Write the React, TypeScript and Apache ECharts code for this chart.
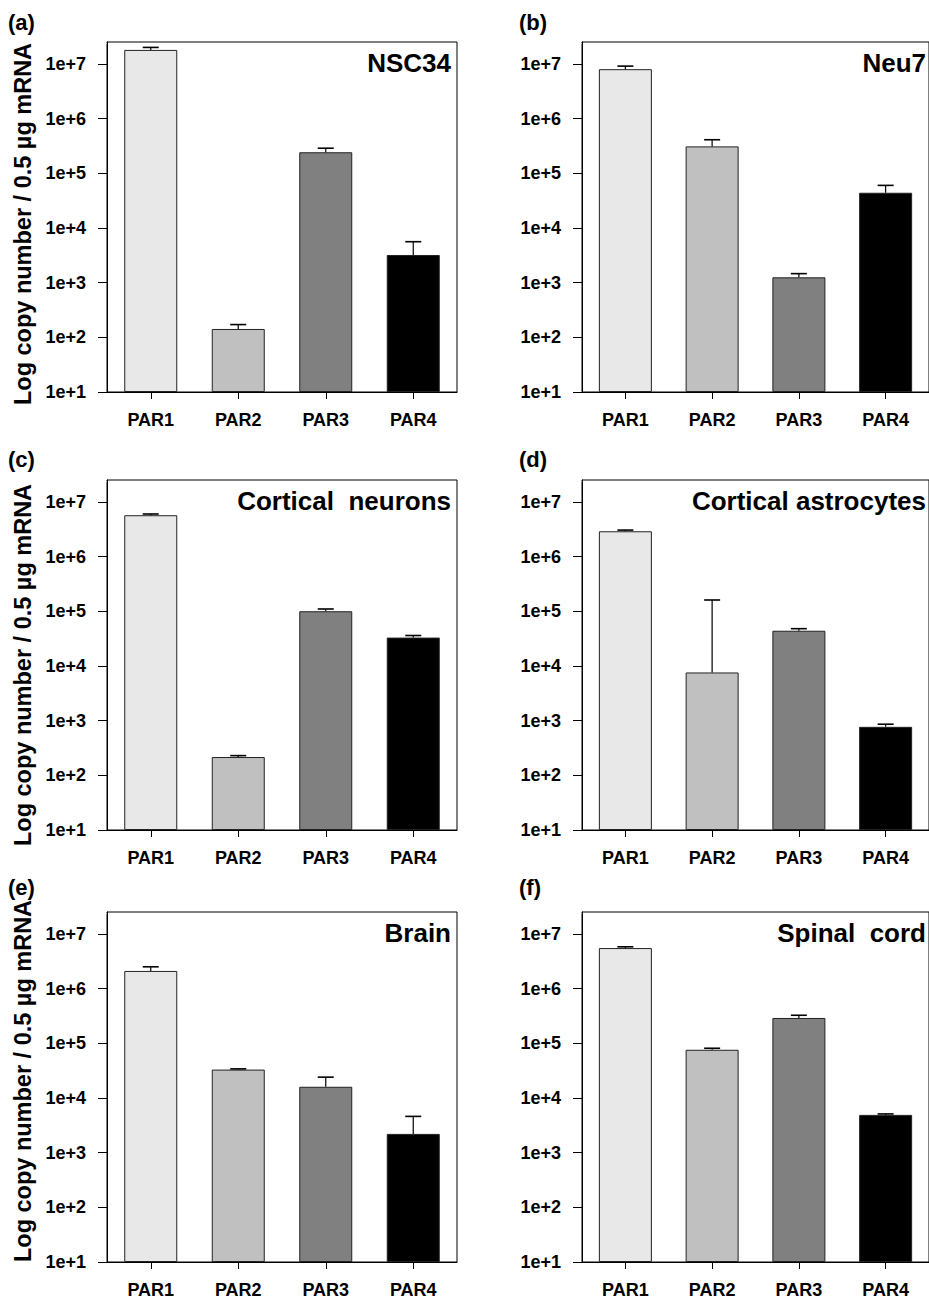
import React, { useEffect, useRef } from "react";
import * as echarts from "echarts";

// ---------- data ----------
const categories = ["PAR1", "PAR2", "PAR3", "PAR4"];
const yTickExponents = [1, 2, 3, 4, 5, 6, 7];

const nsc34Means = [1.8e7, 142, 2.42e5, 3.2e3];
const nsc34Err = [2.0e6, 29, 4.5e4, 2.4e3];

const neu7Means = [8.0e6, 3.1e5, 1.25e3, 4.4e4];
const neu7Err = [1.1e6, 1.0e5, 210, 1.6e4];

const corticalNeuronsMeans = [5.7e6, 216, 1.0e5, 3.3e4];
const corticalNeuronsErr = [3.0e5, 13, 1.0e4, 3.0e3];

const corticalAstrocytesMeans = [2.9e6, 7.6e3, 4.4e4, 770];
const corticalAstrocytesErr = [1.5e5, 1.53e5, 4.0e3, 90];

const brainMeans = [2.1e6, 3.3e4, 1.6e4, 2.2e3];
const brainErr = [4.0e5, 1.0e3, 8.0e3, 2.4e3];

const spinalCordMeans = [5.5e6, 7.6e4, 2.9e5, 4.9e3];
const spinalCordErr = [3.0e5, 5.0e3, 3.5e4, 200];

const panelLetters = ["(a)", "(b)", "(c)", "(d)", "(e)", "(f)"];
const panelTitles = [
  "NSC34",
  "Neu7",
  "Cortical  neurons",
  "Cortical astrocytes",
  "Brain",
  "Spinal  cord",
];
const panelMeans = [
  nsc34Means,
  neu7Means,
  corticalNeuronsMeans,
  corticalAstrocytesMeans,
  brainMeans,
  spinalCordMeans,
];
const panelErrs = [
  nsc34Err,
  neu7Err,
  corticalNeuronsErr,
  corticalAstrocytesErr,
  brainErr,
  spinalCordErr,
];
const yAxisTitle = "Log copy number / 0.5 \u00b5g mRNA";

// ---------- styles / layout ----------
const barColors = ["#e8e8e8", "#c0c0c0", "#808080", "#000000"];
const FONT = 'Arial, "Liberation Sans", Helvetica, sans-serif';
const COL_LEFT = [107, 582];
const ROW_TOP = [42, 480, 912];
const GRID_W = 350;
const GRID_H = 350;
const LOG_MAX_EXP = 7.4;
const LETTER_Y = [22, 459, 887];
const YTITLE_Y = [224, 665, 1081];

function buildOption() {
  const grids: any[] = [];
  const xAxes: any[] = [];
  const yAxes: any[] = [];
  const series: any[] = [];
  const graphics: any[] = [];
  const decade = GRID_H / (LOG_MAX_EXP - 1);

  for (let i = 0; i < 6; i++) {
    const col = i % 2;
    const row = Math.floor(i / 2);
    const left = COL_LEFT[col];
    const top = ROW_TOP[row];
    grids.push({
      left,
      top,
      width: GRID_W,
      height: GRID_H,
      show: true,
      borderColor: "#000",
      borderWidth: 1,
      backgroundColor: "transparent",
      containLabel: false,
    });
    xAxes.push({
      type: "category",
      gridIndex: i,
      data: categories,
      axisLine: { show: true, lineStyle: { color: "#000", width: 1 } },
      axisTick: {
        show: true,
        alignWithLabel: true,
        length: 7,
        lineStyle: { color: "#000", width: 1 },
      },
      axisLabel: {
        margin: 19,
        color: "#000",
        fontSize: 18,
        fontWeight: "bold",
        fontFamily: FONT,
      },
      splitLine: { show: false },
    });
    yAxes.push({
      type: "log",
      logBase: 10,
      gridIndex: i,
      min: 10,
      max: Math.pow(10, LOG_MAX_EXP),
      startValue: 10,
      axisLine: { show: true, lineStyle: { color: "#000", width: 1 } },
      axisTick: { show: true, length: 9, lineStyle: { color: "#000", width: 1 } },
      axisLabel: {
        margin: 21,
        color: "#000",
        fontSize: 18,
        fontWeight: "bold",
        fontFamily: FONT,
        formatter: (v: number) => {
          const e = Math.log10(v);
          const r = Math.round(e);
          return Math.abs(e - r) < 1e-6 && yTickExponents.includes(r)
            ? `1e+${r}`
            : "";
        },
      },
      splitLine: { show: false },
    });

    const means = panelMeans[i];
    const errs = panelErrs[i];
    series.push({
      type: "bar",
      xAxisIndex: i,
      yAxisIndex: i,
      barWidth: 53,
      clip: true,
      data: means.map((v, k) => ({
        value: v,
        itemStyle: {
          color: barColors[k],
          borderColor: "#222",
          borderWidth: 1,
        },
      })),
      z: 2,
    });
    series.push({
      type: "custom",
      xAxisIndex: i,
      yAxisIndex: i,
      z: 3,
      encode: { x: 0, y: 2 },
      data: means.map((v, k) => [k, v, v + errs[k]]),
      renderItem: (params: any, api: any) => {
        const x = api.value(0);
        const m = api.value(1);
        const t = api.value(2);
        const p1 = api.coord([x, m]);
        const p2 = api.coord([x, t]);
        const half = 8;
        return {
          type: "group",
          children: [
            {
              type: "line",
              shape: { x1: p1[0], y1: p1[1], x2: p2[0], y2: p2[1] },
              style: { stroke: "#000", lineWidth: 1.2 },
            },
            {
              type: "line",
              shape: { x1: p2[0] - half, y1: p2[1], x2: p2[0] + half, y2: p2[1] },
              style: { stroke: "#000", lineWidth: 1.6 },
            },
          ],
        };
      },
    });

    // mask the extra tick that the log axis draws at its (non-decade) max
    graphics.push({
      type: "rect",
      shape: { x: left - 12, y: top - 2, width: 11.5, height: 4 },
      style: { fill: "#fff" },
      z: 100,
    });

    // panel title (inside, top right), vertically at the 1e+7 level
    const y7 = top + GRID_H - 6 * decade;
    graphics.push({
      type: "text",
      x: left + GRID_W - 6,
      y: y7 - 1,
      style: {
        text: panelTitles[i],
        fill: "#000",
        fontSize: 26,
        fontWeight: "bold",
        fontFamily: FONT,
        align: "right",
        verticalAlign: "middle",
      },
      z: 10,
    });
    // panel letter
    graphics.push({
      type: "text",
      x: col === 0 ? 8 : 519,
      y: LETTER_Y[row],
      style: {
        text: panelLetters[i],
        fill: "#000",
        fontSize: 22,
        fontWeight: "bold",
        fontFamily: FONT,
        align: "left",
        verticalAlign: "middle",
      },
      z: 10,
    });
    if (col === 0) {
      graphics.push({
        type: "text",
        x: 23,
        y: YTITLE_Y[row],
        rotation: Math.PI / 2,
        style: {
          text: yAxisTitle,
          fill: "#000",
          fontSize: 23.5,
          fontWeight: "bold",
          fontFamily: FONT,
          align: "center",
          verticalAlign: "middle",
        },
        z: 10,
      });
    }
  }

  return {
    animation: false,
    backgroundColor: "#fff",
    grid: grids,
    xAxis: xAxes,
    yAxis: yAxes,
    series,
    graphic: { elements: graphics },
  };
}

export default function App() {
  const ref = useRef<HTMLDivElement>(null);
  useEffect(() => {
    if (!ref.current) return;
    const chart = echarts.init(ref.current, null, { renderer: "svg" });
    chart.setOption(buildOption() as any);
    return () => chart.dispose();
  }, []);
  return (
    <div
      ref={ref}
      style={{ position: "absolute", left: 0, top: 0, width: 929, height: 1302 }}
    />
  );
}
